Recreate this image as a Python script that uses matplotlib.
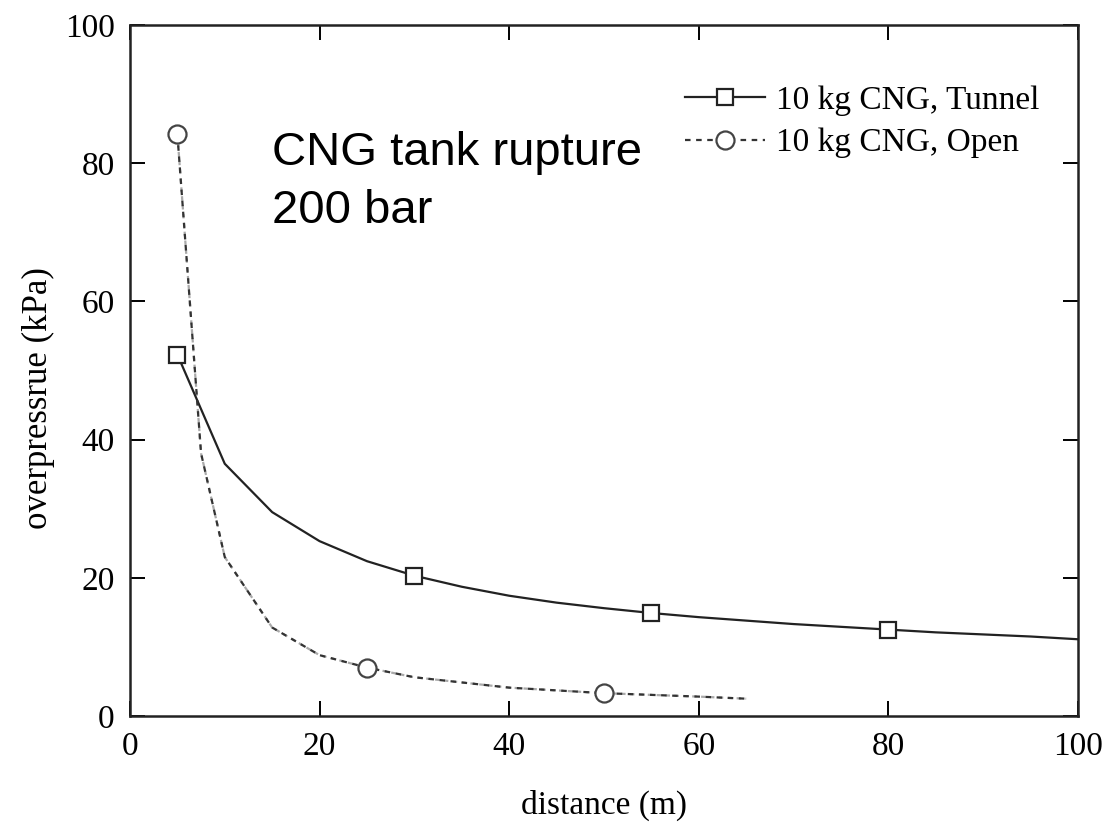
import numpy as np
import matplotlib
matplotlib.use('Agg')
import matplotlib.pyplot as plt

# Data
dist_tunnel = [5, 10, 15, 20, 25, 30, 35, 40, 45, 50, 55, 60, 65, 70, 75, 80, 85, 90, 95, 100]
p_tunnel = [52.3, 36.5, 29.5, 25.3, 22.4, 20.3, 18.7, 17.4, 16.4, 15.6, 14.9, 14.3, 13.8,
            13.3, 12.9, 12.5, 12.1, 11.8, 11.5, 11.1]
mark_tunnel = [0, 5, 10, 15]

dist_open = [5, 7.5, 10, 15, 20, 25, 30, 40, 50, 60, 65]
p_open = [84.2, 38.0, 23.0, 12.8, 8.8, 7.0, 5.6, 4.1, 3.3, 2.8, 2.5]
mark_open = [0, 5, 8]

xticks = [0, 20, 40, 60, 80, 100]
yticks = [0, 20, 40, 60, 80, 100]

serif = ['Liberation Serif', 'DejaVu Serif']
sans = ['Liberation Sans', 'DejaVu Sans']
fs = 24

fig = plt.figure(figsize=(11.07, 8.22), dpi=100)
ax = fig.add_axes([0.1174, 0.129, 0.8564, 0.8406])

# tunnel
ax.plot(dist_tunnel, p_tunnel, color='#222222', lw=1.6, ls='-',
        marker='s', markersize=12, markerfacecolor='white', markeredgecolor='#222222',
        markeredgewidth=1.6, markevery=mark_tunnel, label='10 kg CNG, Tunnel', zorder=3)

# open: grey dotted under black dashes, like the scanned figure
ax.plot(dist_open, p_open, color='#aaaaaa', lw=1.6, ls=(0, (2, 2)), zorder=2)
ax.plot(dist_open, p_open, color='#333333', lw=1.6, ls=(0, (2.5, 2.5)),
        marker='o', markersize=13, markerfacecolor='white', markeredgecolor='#444444',
        markeredgewidth=1.6, markevery=mark_open, label='10 kg CNG, Open', zorder=3)

ax.set_xlim(0, 100)
ax.set_ylim(0, 100)
ax.set_xticks(xticks)
ax.set_yticks(yticks)
ax.tick_params(direction='in', length=11, width=1.4, top=True, right=True,
               labelsize=fs, pad=11)
for lab in ax.get_xticklabels() + ax.get_yticklabels():
    lab.set_family(serif)
for sp in ax.spines.values():
    sp.set_linewidth(1.8)
    sp.set_color('#222222')

ax.set_xlabel('distance (m)', fontsize=fs, family=serif, labelpad=20)
ax.set_ylabel('overpressrue (kPa)', fontsize=25, family=serif)
ax.yaxis.set_label_coords(-0.079, 0.46)

ax.text(15, 79.7, 'CNG tank rupture', fontsize=34, family=sans, ha='left', va='baseline')
ax.text(15, 71.3, '200 bar', fontsize=34, family=sans, ha='left', va='baseline')

leg = ax.legend(loc='upper left', bbox_to_anchor=(0.585, 0.913), frameon=False,
                prop={'family': serif, 'size': fs}, handlelength=2.4,
                handletextpad=0.35, borderpad=0, borderaxespad=0, labelspacing=0.37)

fig.savefig('out.png', dpi=100)
